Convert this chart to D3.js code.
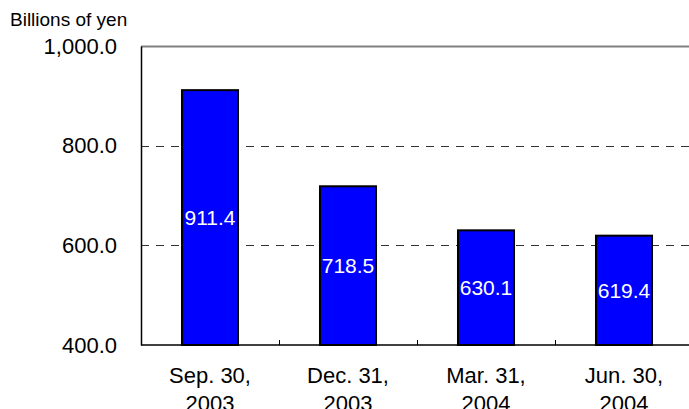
<!DOCTYPE html>
<html>
<head>
<meta charset="utf-8">
<script src="https://cdn.jsdelivr.net/npm/d3@7"></script>
<style>
  body { margin: 0; background: #fff; }
  svg { display: block; font-family: "Liberation Sans", Arial, sans-serif; }
</style>
</head>
<body>
<svg id="chart" width="689" height="409"></svg>
<script>
// chart data
var categories = [["Sep. 30,", "2003"], ["Dec. 31,", "2003"], ["Mar. 31,", "2004"], ["Jun. 30,", "2004"]];
var values = [911.4, 718.5, 630.1, 619.4];
var yTicks = [400, 600, 800, 1000];
var unitLabel = "Billions of yen";

var svg = d3.select("#chart");
var plotLeft = 141, plotRight = 693, plotTop = 46, plotBottom = 345;

var x = d3.scaleBand()
    .domain(d3.range(values.length))
    .range([plotLeft, plotRight])
    .paddingInner(0.594)
    .paddingOuter(0.297);

var y = d3.scaleLinear().domain([400, 1000]).range([plotBottom, plotTop]);
var fmt = d3.format(",.1f");

// top border
svg.append("line")
    .attr("x1", plotLeft).attr("x2", plotRight)
    .attr("y1", plotTop + 0.5).attr("y2", plotTop + 0.5)
    .attr("stroke", "#808080").attr("stroke-width", 2);

// dashed gridlines
svg.selectAll(".grid")
    .data(yTicks.filter(function (d) { return d > 400 && d < 1000; }))
    .enter().append("line")
    .attr("class", "grid")
    .attr("x1", plotLeft).attr("x2", plotRight)
    .attr("y1", function (d) { return Math.round(y(d)) + 0.5; })
    .attr("y2", function (d) { return Math.round(y(d)) + 0.5; })
    .attr("stroke", "#333").attr("stroke-width", 1)
    .attr("stroke-dasharray", "8,7");

// y axis
var yAxis = svg.append("g")
    .attr("transform", "translate(" + plotLeft + ",0)")
    .call(d3.axisLeft(y).tickValues(yTicks).tickFormat(fmt).tickSize(0).tickPadding(24));
yAxis.select(".domain").attr("stroke", "#000").attr("stroke-width", 1.5);
yAxis.selectAll("text").attr("font-size", 22).attr("fill", "#000")
    .attr("font-family", "Liberation Sans, Arial, sans-serif");

// bars
svg.selectAll(".bar")
    .data(values)
    .enter().append("rect")
    .attr("class", "bar")
    .attr("x", function (d, i) { return x(i); })
    .attr("y", function (d) { return y(d); })
    .attr("width", x.bandwidth())
    .attr("height", function (d) { return plotBottom - y(d); })
    .attr("fill", "#0000ff")
    .attr("stroke", "#000").attr("stroke-width", 2);

// value labels in the middle of each bar
svg.selectAll(".val")
    .data(values)
    .enter().append("text")
    .attr("class", "val")
    .attr("x", function (d, i) { return x(i) + x.bandwidth() / 2; })
    .attr("y", function (d) { return (y(d) + plotBottom) / 2; })
    .attr("dy", "0.35em")
    .attr("text-anchor", "middle")
    .attr("font-size", 21)
    .attr("fill", "#fff")
    .text(function (d) { return fmt(d); });

// x axis baseline
svg.append("line")
    .attr("x1", plotLeft).attr("x2", plotRight)
    .attr("y1", plotBottom).attr("y2", plotBottom)
    .attr("stroke", "#000").attr("stroke-width", 1.5);

// inner tick marks between categories
var step = x.step();
svg.selectAll(".xtick")
    .data(d3.range(1, values.length))
    .enter().append("line")
    .attr("class", "xtick")
    .attr("x1", function (d) { return Math.round(plotLeft + d * step) + 0.5; })
    .attr("x2", function (d) { return Math.round(plotLeft + d * step) + 0.5; })
    .attr("y1", plotBottom).attr("y2", plotBottom - 5)
    .attr("stroke", "#000");

// category labels
var cat = svg.selectAll(".cat")
    .data(categories)
    .enter().append("text")
    .attr("class", "cat")
    .attr("text-anchor", "middle")
    .attr("font-size", 22)
    .attr("fill", "#000");
cat.each(function (d, i) {
    var t = d3.select(this);
    d.forEach(function (line, j) {
        t.append("tspan")
            .attr("x", x(i) + x.bandwidth() / 2)
            .attr("y", 383 + j * 28)
            .text(line);
    });
});

// unit label
svg.append("text")
    .attr("x", 10).attr("y", 26)
    .attr("font-size", 19)
    .attr("fill", "#000")
    .text(unitLabel);
</script>
</body>
</html>
